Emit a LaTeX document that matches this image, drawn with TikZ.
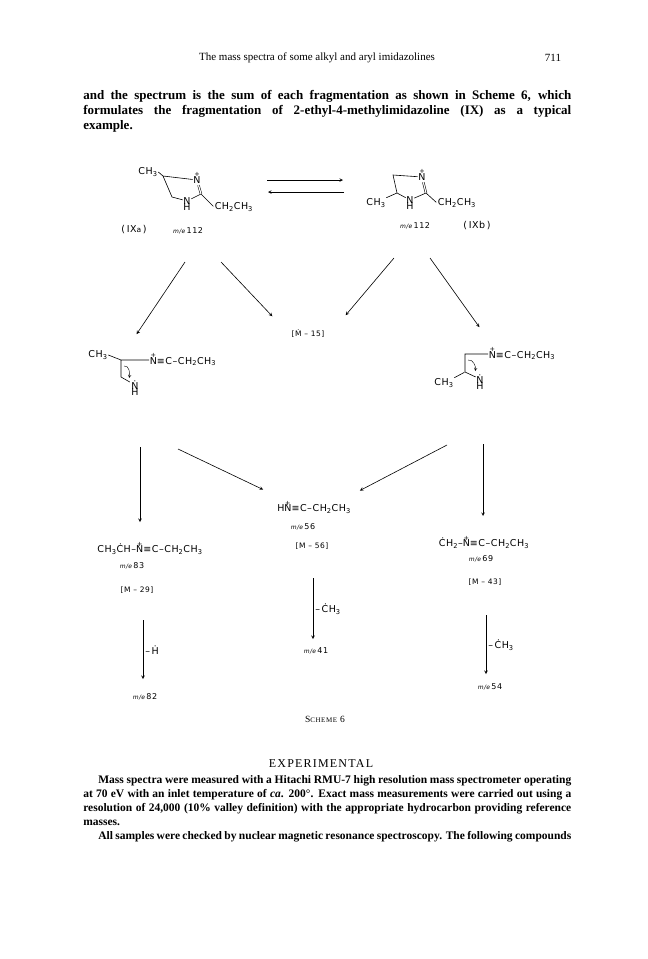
\documentclass[tikz,border=0pt]{standalone}
\usepackage{fontspec}
\setmainfont{Liberation Serif}
\newfontfamily\chemfont{DejaVu Sans}[LetterSpace=6]
\usetikzlibrary{positioning}
\newcommand\Np{\ooalign{N\cr\hidewidth\raisebox{1.2ex}{\fontsize{6.5}{6.5}\selectfont+}\hidewidth\cr}}
\newcommand\me[1]{{\fontsize{6}{6}\selectfont\itshape m/e}\,#1}

\begin{document}
\begin{tikzpicture}[x=1pt,y=-1pt,>=stealth,shorten >=1pt,auto,line width=0.6pt,
                    atom/.style={inner sep=0.5pt,font=\chemfont\fontsize{9.5}{10}\selectfont},
                    plus/.style={inner sep=0pt,font=\chemfont\fontsize{6.5}{6.5}\selectfont},
                    mz/.style={inner sep=1pt,font=\chemfont\fontsize{8}{9}\selectfont},
                    mlab/.style={inner sep=1pt,font=\chemfont\fontsize{7.5}{8}\selectfont},
                    loss/.style={inner sep=2pt,font=\chemfont\fontsize{9.5}{10}\selectfont},
                    prose/.style={inner sep=0pt,anchor=north west,align=justify}]
                    \fill[white] (0,0) rectangle (648,959);
                    \useasboundingbox (0,0) rectangle (648,959);

                    \node[font=\fontsize{11}{13}\selectfont] (hd) at (317,58) {The mass spectra of some alkyl and aryl imidazolines};
                    \node[font=\fontsize{11}{13}\selectfont] (pg) at (553,58) {711};
                    \node[prose,text width=488pt,font=\fontsize{13}{15}\selectfont\bfseries] (p1) at (83,90) {and the spectrum is the sum of each fragmentation as shown in Scheme 6, which\linebreak formulates the fragmentation of 2-ethyl-4-methylimidazoline (IX) as a typical\linebreak example.};

                    \node[atom] (1m) at (148,172) {CH\textsubscript{3}};
                    \coordinate (1c4) at (163,176);
                    \node[atom] (1n3) at (197,180) {N};
                    \node[plus] (1p) [above=-1pt of 1n3] {+};
                    \coordinate (1c2) at (201,194);
                    \node[atom] (1n1) at (187,201) {N};
                    \node[atom] (1h) [below=-2pt of 1n1] {H};
                    \coordinate (1c5) at (172,197);
                    \node[atom,anchor=west] (1e) at (214,207) {CH\textsubscript{2}CH\textsubscript{3}};
                    \node[atom] (1l) at (134,230) {(\,IX{\fontsize{7.5}{8}\selectfont a}\,)};
                    \node[mz] (1z) at (188,231) {\me{112}};
                    \draw (1m.east) -- (1c4) -- (1n3) (1c4) -- (1c5) -- (1n1) -- (1c2) -- (1e.west);
                    \draw[double,double distance=1.2pt,line width=0.5pt] (1c2) -- (1n3);

                    \coordinate (e1) at (267,180);
                    \coordinate (e2) at (344,180);
                    \coordinate (e3) at (344,192);
                    \coordinate (e4) at (267,192);
                    \path (e1) edge[->] (e2)
                          (e3) edge[->] (e4);

                    \node[atom] (2m) at (376,203) {CH\textsubscript{3}};
                    \coordinate (2c5) at (393,175);
                    \node[atom] (2n3) at (422,177) {N};
                    \node[plus] (2p) [above=-1pt of 2n3] {+};
                    \coordinate (2c2) at (426,193);
                    \node[atom] (2n1) at (410,200) {N};
                    \node[atom] (2h) [below=-2pt of 2n1] {H};
                    \coordinate (2c4) at (397,193);
                    \node[atom,anchor=west] (2e) at (437,203) {CH\textsubscript{2}CH\textsubscript{3}};
                    \node[mz] (2z) at (415,226) {\me{112}};
                    \node[atom] (2l) at (477,226) {(\,IXb\,)};
                    \draw (2m.north east) -- (2c4) -- (2c5) -- (2n3) (2c4) -- (2n1) -- (2c2) -- (2e.west);
                    \draw[double,double distance=1.2pt,line width=0.5pt] (2c2) -- (2n3);

                    \coordinate (d1) at (185,262);
                    \coordinate (d1e) at (136,335);
                    \coordinate (d2) at (221,262);
                    \coordinate (d2e) at (273,317);
                    \coordinate (d3) at (394,258);
                    \coordinate (d3e) at (345,316);
                    \coordinate (d4) at (430,258);
                    \coordinate (d4e) at (480,328);
                    \node[mlab] (m15) at (308,334) {[Ṁ – 15]};
                    \path (d1) edge[->] (d1e)
                          (d2) edge[->] (d2e)
                          (d3) edge[->] (d3e)
                          (d4) edge[->] (d4e);

                    \node[atom] (3m) at (98,355) {CH\textsubscript{3}};
                    \coordinate (3c) at (121,360);
                    \node[atom,anchor=base west] (3s) at (149,364) {\Np≡C–CH\textsubscript{2}CH\textsubscript{3}};
                    \coordinate (3c2) at (121,377);
                    \node[atom] (3n) at (135,385) {Ṅ};
                    \node[atom] (3h) [below=-2pt of 3n] {H};
                    \coordinate (3a) at (124,366);
                    \coordinate (3ae) at (129,379);
                    \draw (3m.east) -- (3c) -- (3c -| 3s.west) (3c) -- (3c2) -- (3n);
                    \draw[->,line width=0.4pt] (3a) to[out=10,in=80] (3ae);

                    \coordinate (4c) at (465,354);
                    \node[atom,anchor=base west] (4s) at (488,358) {\Np≡C–CH\textsubscript{2}CH\textsubscript{3}};
                    \coordinate (4c2) at (465,372);
                    \node[atom] (4m) at (444,383) {CH\textsubscript{3}};
                    \node[atom] (4n) at (480,379) {Ṅ};
                    \node[atom] (4h) [below=-2pt of 4n] {H};
                    \coordinate (4a) at (468,360);
                    \coordinate (4ae) at (475,372);
                    \draw (4s.west |- 4c) -- (4c) -- (4c2) -- (4n) (4m.north east) -- (4c2);
                    \draw[->,line width=0.4pt] (4a) to[out=10,in=80] (4ae);

                    \coordinate (v1) at (140,447);
                    \coordinate (v1e) at (140,523);
                    \coordinate (g1) at (178,449);
                    \coordinate (g1e) at (264,490);
                    \coordinate (g2) at (447,445);
                    \coordinate (g2e) at (359,491);
                    \coordinate (v2) at (483,444);
                    \coordinate (v2e) at (483,517);
                    \path (v1) edge[->] (v1e)
                          (g1) edge[->] (g1e)
                          (g2) edge[->] (g2e)
                          (v2) edge[->] (v2e);

                    \node[atom] (5) at (150,549) {CH\textsubscript{3}ĊH–\Np≡C–CH\textsubscript{2}CH\textsubscript{3}};
                    \node[mz] (5z) at (132,566) {\me{83}};
                    \node[mlab] (5b) at (137,590) {[M – 29]};

                    \node[atom] (6) at (314,509) {H\Np≡C–CH\textsubscript{2}CH\textsubscript{3}};
                    \node[mz] (6z) at (303,527) {\me{56}};
                    \node[mlab] (6b) at (312,546) {[M – 56]};

                    \node[atom] (7) at (484,543) {ĊH\textsubscript{2}–\Np≡C–CH\textsubscript{2}CH\textsubscript{3}};
                    \node[mz] (7z) at (481,559) {\me{69}};
                    \node[mlab] (7b) at (485,582) {[M – 43]};

                    \coordinate (b1) at (143,620);
                    \coordinate (b1e) at (143,680);
                    \coordinate (b2) at (313,578);
                    \coordinate (b2e) at (313,640);
                    \coordinate (b3) at (486,615);
                    \coordinate (b3e) at (486,675);
                    \path[every node/.style={loss}]
                          (b1) edge[->] node {–\,Ḣ} (b1e)
                          (b2) edge[->] node {–\,ĊH\textsubscript{3}} (b2e)
                          (b3) edge[->] node {–\,ĊH\textsubscript{3}} (b3e);
                    \node[mz] (8) at (145,697) {\me{82}};
                    \node[mz] (9) at (316,651) {\me{41}};
                    \node[mz] (10) at (490,687) {\me{54}};

                    \node[font=\fontsize{9.5}{11}\selectfont\addfontfeature{LetterSpace=8}] (sc) at (325,719) {S{\fontsize{7}{8}\selectfont CHEME} 6};
                    \node[font=\fontsize{12}{14}\selectfont\addfontfeature{LetterSpace=10}] (ex) at (321,764) {EXPERIMENTAL};
                    \node[prose,text width=488pt,font=\fontsize{11.5}{14}\selectfont\bfseries] (p2) at (83,775) {\hspace*{15pt}Mass spectra were measured with a Hitachi RMU-7 high resolution mass spectrometer operating\linebreak at 70 eV with an inlet temperature of \textit{ca}. 200°. Exact mass measurements were carried out using a\linebreak resolution of 24,000 (10\% valley definition) with the appropriate hydrocarbon providing reference\linebreak masses.\par\hspace*{15pt}All samples were checked by nuclear magnetic resonance spectroscopy. The following compounds\linebreak};
                \end{tikzpicture}
\end{document}
